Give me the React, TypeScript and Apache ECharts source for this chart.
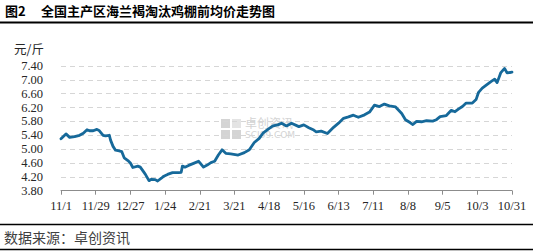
import React, { useEffect, useRef } from "react";
import * as echarts from "echarts";

const TITLE_NO = "图2";
const TITLE = "全国主产区海兰褐淘汰鸡棚前均价走势图";
const UNIT = "元/斤";
const SOURCE = "数据来源：卓创资讯";

const START_DATE = "2022-11-01";
const DAY_COUNT = 365;
const LABEL_EVERY = 28;

const yTicks = [3.8, 4.2, 4.6, 5.0, 5.4, 5.8, 6.2, 6.6, 7.0, 7.4];

const sampleDates = [
  "2022-11-01", "2022-11-05", "2022-11-08", "2022-11-12", "2022-11-16", "2022-11-19", "2022-11-22", "2022-11-24",
  "2022-11-27", "2022-11-30", "2022-12-02", "2022-12-05", "2022-12-07", "2022-12-10", "2022-12-11", "2022-12-13",
  "2022-12-15", "2022-12-18", "2022-12-20", "2022-12-22", "2022-12-25", "2022-12-27", "2022-12-29", "2023-01-02",
  "2023-01-04", "2023-01-08", "2023-01-11", "2023-01-13", "2023-01-16", "2023-01-18", "2023-01-21", "2023-01-23",
  "2023-01-26", "2023-01-30", "2023-02-04", "2023-02-06", "2023-02-07", "2023-02-09", "2023-02-12", "2023-02-16",
  "2023-02-20", "2023-02-21", "2023-02-24", "2023-02-27", "2023-03-02", "2023-03-05", "2023-03-08", "2023-03-11",
  "2023-03-14", "2023-03-18", "2023-03-24", "2023-03-29", "2023-04-02", "2023-04-06", "2023-04-10", "2023-04-13",
  "2023-04-17", "2023-04-21", "2023-04-25", "2023-04-28", "2023-05-02", "2023-05-06", "2023-05-12", "2023-05-16",
  "2023-05-20", "2023-05-24", "2023-05-26", "2023-05-30", "2023-06-04", "2023-06-09", "2023-06-13", "2023-06-17",
  "2023-06-21", "2023-06-25", "2023-06-29", "2023-07-04", "2023-07-08", "2023-07-12", "2023-07-16", "2023-07-20",
  "2023-07-24", "2023-07-29", "2023-07-30", "2023-08-03", "2023-08-06", "2023-08-10", "2023-08-12", "2023-08-15",
  "2023-08-19", "2023-08-23", "2023-08-28", "2023-08-31", "2023-09-03", "2023-09-08", "2023-09-12", "2023-09-15",
  "2023-09-18", "2023-09-21", "2023-09-24", "2023-09-29", "2023-10-02", "2023-10-04", "2023-10-07", "2023-10-11",
  "2023-10-14", "2023-10-17", "2023-10-19", "2023-10-22", "2023-10-25", "2023-10-27", "2023-10-31",
];

const sampleValues = [
  5.30, 5.44, 5.34, 5.36, 5.40, 5.46, 5.56, 5.53,
  5.53, 5.57, 5.53, 5.40, 5.38, 5.40, 5.26, 5.08,
  4.97, 4.95, 4.93, 4.75, 4.67, 4.60, 4.47, 4.51,
  4.48, 4.28, 4.09, 4.13, 4.12, 4.08, 4.16, 4.22,
  4.27, 4.32, 4.32, 4.33, 4.51, 4.48, 4.53, 4.59,
  4.65, 4.61, 4.48, 4.54, 4.61, 4.65, 4.83, 4.98,
  4.88, 4.86, 4.83, 4.90, 4.98, 5.19, 5.31, 5.46,
  5.57, 5.67, 5.70, 5.75, 5.67, 5.75, 5.65, 5.70,
  5.62, 5.55, 5.50, 5.52, 5.45, 5.63, 5.75, 5.89,
  5.93, 5.98, 5.92, 5.99, 6.07, 6.27, 6.23, 6.30,
  6.25, 6.22, 6.18, 6.03, 5.85, 5.76, 5.71, 5.80,
  5.79, 5.82, 5.81, 5.85, 5.94, 5.97, 6.12, 6.08,
  6.16, 6.23, 6.33, 6.33, 6.43, 6.64, 6.76, 6.87,
  6.95, 7.02, 6.92, 7.21, 7.33, 7.20, 7.22,
];

function buildCategories(): string[] {
  const out: string[] = [];
  const d0 = new Date(START_DATE + "T00:00:00Z");
  for (let i = 0; i < DAY_COUNT; i++) {
    const d = new Date(d0.getTime() + i * 86400000);
    out.push(d.toISOString().slice(0, 10));
  }
  return out;
}

const LABEL_FONT = "Liberation Serif, DejaVu Serif, serif";
const CJK_FONT = "Noto Sans CJK SC, sans-serif";

export default function App() {
  const ref = useRef<HTMLDivElement>(null);
  useEffect(() => {
    if (!ref.current) return;
    const chart = echarts.init(ref.current, undefined, { renderer: "svg" });
    const categories = buildCategories();
    const data = sampleDates.map((d, i) => [d, sampleValues[i]]);
    const wm = "#d4d4d4";
    chart.setOption({
      animation: false,
      backgroundColor: "#ffffff",
      grid: { left: 61, right: 21, top: 66, bottom: 60.3, containLabel: false },
      xAxis: {
        type: "category",
        data: categories,
        boundaryGap: false,
        axisLine: { show: true, lineStyle: { color: "#8c8c8c", width: 1 } },
        axisTick: {
          show: true,
          length: 4,
          inside: false,
          interval: LABEL_EVERY - 1,
          lineStyle: { color: "#8c8c8c" },
        },
        axisLabel: {
          interval: LABEL_EVERY - 1,
          margin: 9,
          color: "#262626",
          fontSize: 12.5,
          fontFamily: LABEL_FONT,
          formatter: (v: string) => {
            const [, m, d] = v.split("-");
            return `${parseInt(m, 10)}/${parseInt(d, 10)}`;
          },
        },
        splitLine: { show: false },
      },
      yAxis: {
        type: "value",
        min: yTicks[0],
        max: yTicks[yTicks.length - 1],
        interval: 0.4,
        axisLine: { show: false },
        axisTick: { show: false },
        axisLabel: {
          margin: 18,
          color: "#262626",
          fontSize: 12.5,
          fontFamily: LABEL_FONT,
          formatter: (v: number) => v.toFixed(2),
        },
        splitLine: { show: true, lineStyle: { color: "#d6d6d6", type: [5, 4], width: 1 } },
      },
      series: [
        {
          type: "line",
          data,
          showSymbol: false,
          symbol: "none",
          z: 5,
          lineStyle: { color: "#16699a", width: 2.8, join: "round", cap: "round" },
        },
      ],
      graphic: [
        // watermark
        { type: "rect", z: -1, shape: { x: 221, y: 119, width: 9, height: 9 }, style: { fill: wm } },
        { type: "rect", z: -1, shape: { x: 232, y: 119, width: 9, height: 9 }, style: { fill: "#e4e4e4" } },
        { type: "rect", z: -1, shape: { x: 221, y: 130, width: 9, height: 9 }, style: { fill: wm } },
        { type: "rect", z: -1, shape: { x: 232, y: 130, width: 9, height: 9 }, style: { fill: wm } },
        {
          type: "text", z: -1, left: 245, top: 116,
          style: { text: "卓创资讯", fill: wm, font: `12px ${CJK_FONT}` },
        },
        {
          type: "text", z: -1, left: 245, top: 130,
          style: { text: "SCI99.COM", fill: wm, font: `9px DejaVu Sans, sans-serif` },
        },
        // title
        {
          type: "text", left: 5, top: 4,
          style: { text: TITLE_NO, fill: "#000", font: `bold 13px ${CJK_FONT}` },
        },
        {
          type: "text", left: 41, top: 4,
          style: { text: TITLE, fill: "#000", font: `bold 13px ${CJK_FONT}` },
        },
        { type: "line", shape: { x1: 0, y1: 22.5, x2: 533, y2: 22.5 }, style: { stroke: "#000", lineWidth: 2 } },
        {
          type: "text", left: 14, top: 42,
          style: { text: UNIT, fill: "#262626", font: `12.5px ${CJK_FONT}` },
        },
        { type: "line", shape: { x1: 0, y1: 224.5, x2: 533, y2: 224.5 }, style: { stroke: "#000", lineWidth: 1.5 } },
        {
          type: "text", left: 4, top: 230,
          style: { text: SOURCE, fill: "#404040", font: `14px ${CJK_FONT}` },
        },
        { type: "line", shape: { x1: 0, y1: 249.5, x2: 533, y2: 249.5 }, style: { stroke: "#000", lineWidth: 1.5 } },
      ],
    });
    return () => chart.dispose();
  }, []);
  return (
    <div
      ref={ref}
      style={{ position: "fixed", left: 0, top: 0, width: 533, height: 251 }}
    />
  );
}
